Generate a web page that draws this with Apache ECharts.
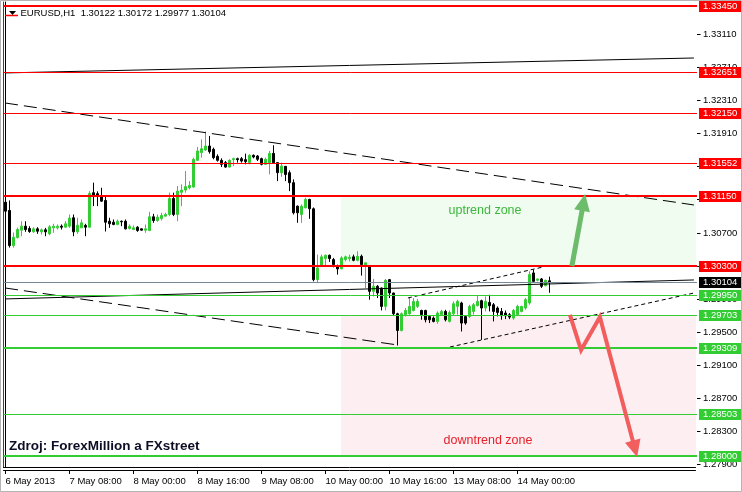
<!DOCTYPE html>
<html><head><meta charset="utf-8">
<script src="https://cdn.jsdelivr.net/npm/echarts@6/dist/echarts.min.js"></script>
<style>html,body{margin:0;padding:0;background:#fff}#c{width:742px;height:492px}</style>
</head><body><div id="c"></div>
<script>
// ---------------- data ----------------
const symbolName = 'EURUSD,H1';
const days = ['6 May','7 May','8 May','9 May','10 May','13 May','14 May','15 May'];
const firstHour = 16;
const slotCount = 173;
const xTickStep = 16;
const xTickLabels = ['6 May 2013','7 May 08:00','8 May 00:00','8 May 16:00','9 May 08:00','10 May 00:00','10 May 16:00','13 May 08:00','14 May 00:00'];
const yTickValues = [1.33110,1.32710,1.32310,1.31910,1.31510,1.31110,1.30700,1.30300,1.29900,1.29500,1.29100,1.28700,1.28300,1.27900];
const yMin = 1.27867, yMax = 1.33498;

// [open, close, low, high]
const candles = [
[1.31074,1.30965,1.30950,1.31095],[1.30974,1.30548,1.30524,1.31095],[1.30548,1.30650,1.30524,1.30707],[1.30646,1.30743,1.30634,1.30767],
[1.30735,1.30783,1.30662,1.30843],[1.30783,1.30743,1.30715,1.30843],[1.30755,1.30719,1.30703,1.30783],[1.30715,1.30751,1.30703,1.30771],
[1.30751,1.30722,1.30691,1.30771],[1.30715,1.30739,1.30682,1.30755],[1.30739,1.30715,1.30662,1.30763],[1.30691,1.30775,1.30674,1.30795],
[1.30763,1.30783,1.30703,1.30812],[1.30763,1.30783,1.30743,1.30804],[1.30783,1.30771,1.30743,1.30804],[1.30771,1.30812,1.30763,1.30843],
[1.30783,1.30881,1.30763,1.30925],[1.30885,1.30715,1.30662,1.30925],[1.30715,1.30795,1.30691,1.30885],[1.30763,1.30824,1.30763,1.30864],
[1.30792,1.30771,1.30662,1.30812],[1.30771,1.31180,1.30767,1.31208],[1.31189,1.31160,1.31026,1.31310],[1.31177,1.31160,1.31026,1.31205],
[1.31147,1.31086,1.31079,1.31249],[1.31095,1.30831,1.30719,1.31147],[1.30843,1.30812,1.30763,1.30885],[1.30831,1.30804,1.30795,1.30864],
[1.30804,1.30843,1.30795,1.30864],[1.30843,1.30836,1.30783,1.30852],[1.30843,1.30751,1.30743,1.30864],[1.30755,1.30783,1.30743,1.30804],
[1.30743,1.30763,1.30735,1.30792],[1.30771,1.30731,1.30715,1.30783],[1.30751,1.30735,1.30731,1.30755],[1.30735,1.30751,1.30703,1.30804],
[1.30731,1.30897,1.30722,1.30958],[1.30897,1.30852,1.30824,1.30933],[1.30852,1.30892,1.30836,1.30925],[1.30876,1.30913,1.30852,1.30946],
[1.30905,1.30925,1.30901,1.30946],[1.30925,1.31119,1.30905,1.31189],[1.31119,1.30925,1.30905,1.31189],[1.30925,1.31208,1.30843,1.31269],
[1.31193,1.31221,1.31026,1.31289],[1.31221,1.31262,1.31189,1.31451],[1.31249,1.31277,1.31229,1.31329],[1.31257,1.31593,1.31249,1.31613],
[1.31581,1.31694,1.31572,1.31742],[1.31674,1.31722,1.31613,1.31835],[1.31706,1.31754,1.31694,1.31929],[1.31754,1.31686,1.31662,1.31876],
[1.31714,1.31613,1.31593,1.31735],[1.31629,1.31581,1.31565,1.31653],[1.31581,1.31532,1.31499,1.31605],[1.31553,1.31499,1.31492,1.31572],
[1.31499,1.31581,1.31492,1.31593],[1.31589,1.31601,1.31511,1.31613],[1.31601,1.31589,1.31553,1.31613],[1.31601,1.31572,1.31553,1.31621],
[1.31589,1.31565,1.31532,1.31662],[1.31553,1.31641,1.31532,1.31653],[1.31641,1.31621,1.31605,1.31653],[1.31633,1.31593,1.31572,1.31645],
[1.31601,1.31532,1.31520,1.31613],[1.31532,1.31593,1.31524,1.31613],[1.31553,1.31665,1.31410,1.31694],[1.31665,1.31553,1.31544,1.31763],
[1.31553,1.31431,1.31329,1.31556],[1.31431,1.31511,1.31382,1.31553],[1.31508,1.31410,1.31329,1.31511],[1.31431,1.31310,1.31208,1.31459],
[1.31310,1.30946,1.30925,1.31350],[1.31026,1.30946,1.30824,1.31034],[1.30925,1.31026,1.30824,1.31046],[1.31006,1.31107,1.30998,1.31128],
[1.31107,1.30994,1.30872,1.31115],[1.30994,1.30136,1.30115,1.31010],[1.30136,1.30278,1.30095,1.30439],[1.30298,1.30412,1.30298,1.30439],
[1.30391,1.30431,1.30306,1.30439],[1.30431,1.30391,1.30351,1.30439],[1.30379,1.30318,1.30285,1.30399],[1.30298,1.30266,1.30197,1.30318],
[1.30266,1.30399,1.30266,1.30419],[1.30379,1.30412,1.30358,1.30427],[1.30391,1.30407,1.30358,1.30439],[1.30412,1.30370,1.30358,1.30439],
[1.30370,1.30419,1.30358,1.30480],[1.30419,1.30318,1.30185,1.30439],[1.30298,1.30339,1.30035,1.30346],[1.30306,1.29994,1.29893,1.30306],
[1.29994,1.30055,1.29933,1.30144],[1.30055,1.29974,1.29913,1.30071],[1.30035,1.29812,1.29763,1.30039],[1.29812,1.30128,1.29763,1.30144],
[1.30136,1.29974,1.29913,1.30144],[1.29974,1.29723,1.29699,1.29978],[1.29723,1.29520,1.29338,1.29735],[1.29520,1.29723,1.29508,1.29739],
[1.29711,1.29763,1.29690,1.29792],[1.29723,1.29812,1.29711,1.29913],[1.29763,1.29872,1.29751,1.29913],[1.29812,1.29872,1.29792,1.29901],
[1.29763,1.29711,1.29650,1.29771],[1.29763,1.29650,1.29618,1.29771],[1.29690,1.29650,1.29610,1.29699],[1.29670,1.29630,1.29618,1.29690],
[1.29630,1.29731,1.29602,1.29751],[1.29711,1.29751,1.29699,1.29771],[1.29751,1.29650,1.29630,1.29771],[1.29630,1.29739,1.29618,1.29763],
[1.29723,1.29844,1.29699,1.29872],[1.29812,1.29872,1.29711,1.29893],[1.29853,1.29610,1.29508,1.29868],[1.29690,1.29610,1.29590,1.29699],
[1.29690,1.29812,1.29670,1.29832],[1.29751,1.29832,1.29711,1.29853],[1.29820,1.29872,1.29812,1.29941],[1.29881,1.29792,1.29407,1.29893],
[1.29792,1.29872,1.29751,1.29933],[1.29860,1.29820,1.29751,1.29953],[1.29832,1.29751,1.29630,1.29853],[1.29792,1.29739,1.29690,1.29812],
[1.29751,1.29699,1.29650,1.29792],[1.29731,1.29699,1.29658,1.29763],[1.29711,1.29682,1.29658,1.29731],[1.29670,1.29763,1.29650,1.29780],
[1.29711,1.29812,1.29699,1.29832],[1.29751,1.29812,1.29739,1.29820],[1.29792,1.29893,1.29771,1.29913],[1.29853,1.30197,1.29832,1.30237],
[1.30217,1.30115,1.30095,1.30257],[1.30128,1.30144,1.30115,1.30148],[1.30144,1.30055,1.30035,1.30156],[1.30063,1.30128,1.30055,1.30136],
[1.30122,1.30104,1.29977,1.30172]
];

const levelValues = [1.33450,1.32651,1.32150,1.31552,1.31150,1.30300,1.29950,1.29703,1.29309,1.28503,1.28000];
const levelKind   = ['res','res','res','res','res','res','sup','sup','sup','sup','sup'];

// trend lines: [[slot, price],[slot, price]]
const trendTopSolid     = [[-0.1,1.32639],[172.1,1.32820]];
const trendFallingDash  = [[-0.1,1.32275],[172.1,1.31040]];
const trendMidSolid     = [[-0.1,1.29902],[172.1,1.30132]];
const trendLowerDash    = [[-0.1,1.30035],[98.1,1.29344]];
const trendChannelTop   = [[100.6,1.29914],[134.4,1.30289]];
const trendChannelLow   = [[111.1,1.29320],[172.1,1.29974]];

// zones: [[slotFrom, priceTop],[slotTo, priceBottom]]
const uptrendZone   = [[83.9,1.31150],[172.5,1.30300]];
const downtrendZone = [[83.9,1.29703],[172.5,1.28000]];

// arrows (slot, price)
const arrowUp   = [[141.6,1.30301],[144.9,1.31173]];
const arrowDown = [[141.1,1.29708],[143.9,1.29284],[148.6,1.29684],[157.9,1.27988]];

// ---------------- styles ----------------
const FONT = '"Liberation Sans", Arial, sans-serif';
const BULL = '#32cd32', BEAR = '#000000';
const RED = '#ff0000', GREEN = '#32cd32';
const levelWidth = [2,1,1,1,2,2,1,1,2,1,2];
const AXIS_OFFSET = 1.5;

// categories (hourly bars, weekend skipped)
const categories = [];
{ let d = 0, h = firstHour;
  while (categories.length < slotCount) {
    categories.push(days[d] + ' ' + String(h).padStart(2,'0') + ':00');
    h++; if (h === 24) { h = 0; d++; }
  } }

const last = candles[candles.length - 1];
const currentPrice = last[1];

const chart = echarts.init(document.getElementById('c'), null, {renderer: 'canvas'});

const tickShown = (i) => i % xTickStep === 0 && i / xTickStep < xTickLabels.length;

function lineSeries(data, type) {
  return {type: 'line', xAxisIndex: 2, yAxisIndex: 0, data: data, symbol: 'none', silent: true,
    animation: false, z: 4, lineStyle: {color: '#000', width: 1, type: type}};
}

function crisp(y, w) { return (w % 2) ? Math.round(y) + 0.5 : Math.round(y); }

const arrows = [
  {pts: arrowUp, color: '#6cbc6c', width: 5, head: 17, half: 8},
  {pts: arrowDown, color: '#f25d5d', width: 4, head: 17, half: 8}
];

const option = {
  animation: false,
  backgroundColor: '#fff',
  grid: {left: 3.5, top: 2, width: 692, height: 465, containLabel: false},
  xAxis: [
    {type: 'category', data: categories, boundaryGap: true, position: 'bottom',
     axisLine: {show: true, lineStyle: {color: '#000', width: 1}}, axisTick: {show: false},
     axisLabel: {show: false}, splitLine: {show: false}},
    {type: 'category', data: categories, boundaryGap: true, position: 'bottom', offset: 3,
     axisLine: {show: true, lineStyle: {color: '#000', width: 1}},
     axisTick: {show: true, alignWithLabel: true, interval: tickShown, length: 4, lineStyle: {color: '#000'}},
     axisLabel: {show: true, interval: tickShown, align: 'left', margin: 6, color: '#000',
       fontFamily: FONT, fontSize: 9.5,
       formatter: (v, i) => xTickLabels[i / xTickStep] || ''},
     splitLine: {show: false}},
    {type: 'value', min: -0.5, max: slotCount - 0.5, show: false}
  ],
  yAxis: [
    {type: 'value', position: 'right', offset: AXIS_OFFSET, min: yMin, max: yMax,
     axisLine: {show: true, lineStyle: {color: '#000'}}, axisTick: {show: false},
     axisLabel: {show: false}, splitLine: {show: false}},
    {type: 'value', position: 'left', min: yMin, max: yMax,
     axisLine: {show: true, lineStyle: {color: '#404040'}}, axisTick: {show: false},
     axisLabel: {show: false}, splitLine: {show: false}}
  ],
  series: [
    // zones
    {type: 'custom', xAxisIndex: 2, yAxisIndex: 0, silent: true, z: 1, animation: false,
     data: [0, 1],
     renderItem: (params, api) => {
       const zone = params.dataIndex === 0 ? uptrendZone : downtrendZone;
       const a = api.coord(zone[0]), b = api.coord(zone[1]);
       return {type: 'rect', shape: {x: Math.round(a[0]), y: Math.round(a[1]), width: Math.round(b[0]) - Math.round(a[0]), height: Math.round(b[1]) - Math.round(a[1])},
         style: {fill: params.dataIndex === 0 ? '#effcef' : '#fdeef2'}};
     }},
    // candles
    {type: 'candlestick', xAxisIndex: 0, yAxisIndex: 0, data: candles, barWidth: 2, z: 3,
     silent: true, animation: false,
     itemStyle: {color: BULL, color0: BEAR, borderColor: BULL, borderColor0: BEAR, borderWidth: 1}},
    // trend lines
    lineSeries(trendTopSolid, 'solid'),
    lineSeries(trendFallingDash, [13, 6]),
    lineSeries(trendMidSolid, 'solid'),
    lineSeries(trendLowerDash, [13, 6]),
    lineSeries(trendChannelTop, [4, 3]),
    lineSeries(trendChannelLow, [4, 3]),
    // level lines + current price line
    {type: 'custom', xAxisIndex: 2, yAxisIndex: 0, silent: true, z: 5, animation: false,
     data: levelValues.map(v => [0, v]).concat([[0, currentPrice]]),
     renderItem: (params, api) => {
       const cs = params.coordSys;
       const i = params.dataIndex;
       const isCur = i >= levelValues.length;
       const w = isCur ? 1 : levelWidth[i];
       const col = isCur ? '#778899' : (levelKind[i] === 'res' ? RED : GREEN);
       const y = crisp(api.coord([0, api.value(1)])[1], w);
       return {type: 'line', shape: {x1: cs.x, y1: y, x2: cs.x + cs.width + AXIS_OFFSET, y2: y},
         style: {stroke: col, lineWidth: w}};
     }},
    // arrows
    {type: 'custom', xAxisIndex: 2, yAxisIndex: 0, silent: true, z: 6, animation: false,
     data: [0, 1],
     renderItem: (params, api) => {
       const a = arrows[params.dataIndex];
       const pts = a.pts.map(p => api.coord(p));
       const n = pts.length, tip = pts[n - 1], prev = pts[n - 2];
       const dx = tip[0] - prev[0], dy = tip[1] - prev[1], len = Math.hypot(dx, dy);
       const ux = dx / len, uy = dy / len;
       const base = [tip[0] - ux * a.head, tip[1] - uy * a.head];
       const shaft = pts.slice(0, n - 1).concat([[base[0] + ux * 2, base[1] + uy * 2]]);
       const l = [base[0] - uy * a.half, base[1] + ux * a.half];
       const r = [base[0] + uy * a.half, base[1] - ux * a.half];
       return {type: 'group', children: [
         {type: 'polyline', shape: {points: shaft}, style: {stroke: a.color, lineWidth: a.width, fill: null, lineJoin: 'miter', lineCap: 'butt'}},
         {type: 'polygon', shape: {points: [l, tip, r]}, style: {fill: a.color}}
       ]};
     }},
    // y tick labels
    {type: 'custom', xAxisIndex: 2, yAxisIndex: 0, silent: true, z: 7, animation: false,
     data: yTickValues.map(v => [0, v]),
     renderItem: (params, api) => {
       const cs = params.coordSys;
       const R = cs.x + cs.width + AXIS_OFFSET;
       const y = crisp(api.coord([0, api.value(1)])[1], 1);
       return {type: 'group', children: [
         {type: 'line', shape: {x1: R, y1: y, x2: R + 3.5, y2: y}, style: {stroke: '#000', lineWidth: 1}},
         {type: 'text', x: R + 6, y: y, style: {text: api.value(1).toFixed(5), fill: '#000', fontFamily: FONT, fontSize: 9.5, align: 'left', verticalAlign: 'middle'}}
       ]};
     }},
    // level price boxes
    {type: 'custom', xAxisIndex: 2, yAxisIndex: 0, silent: true, z: 8, animation: false,
     data: levelValues.map(v => [0, v]).concat([[0, currentPrice]]),
     renderItem: (params, api) => {
       const cs = params.coordSys;
       const R = cs.x + cs.width + AXIS_OFFSET;
       const i = params.dataIndex;
       const isCur = i >= levelValues.length;
       const col = isCur ? '#000' : (levelKind[i] === 'res' ? RED : GREEN);
       const y = Math.round(api.coord([0, api.value(1)])[1]);
       return {type: 'group', children: [
         {type: 'rect', shape: {x: R + 2, y: y - 5, width: 50, height: 11}, style: {fill: col}},
         {type: 'text', x: R + 6, y: y + 0.5, style: {text: api.value(1).toFixed(5), fill: '#fff', fontFamily: FONT, fontSize: 9.5, align: 'left', verticalAlign: 'middle'}}
       ]};
     }}
  ],
  graphic: [
    {type: 'rect', shape: {x: 0.5, y: 0.5, width: 741, height: 491}, style: {fill: null, stroke: '#b4b4b4', lineWidth: 1}, z: 100, silent: true},
    {type: 'polygon', shape: {points: [[9, 11], [16, 11], [12.5, 15]]}, style: {fill: '#000'}, z: 100, silent: true},
    {type: 'line', shape: {x1: 5, y1: 15.5, x2: 18, y2: 15.5}, style: {stroke: RED, lineWidth: 1.5}, z: 100, silent: true},
    {type: 'text', x: 20.5, y: 13, style: {text: symbolName + '  ' + [last[0], last[3], last[2], last[1]].map(v => v.toFixed(5)).join(' '),
      fill: '#000', fontFamily: FONT, fontSize: 9.5, verticalAlign: 'middle'}, z: 100, silent: true},
    {type: 'text', x: 485, y: 211, style: {text: 'uptrend zone', fill: '#3cb83c', fontFamily: FONT, fontSize: 12.5, align: 'center', verticalAlign: 'middle'}, z: 100, silent: true},
    {type: 'text', x: 488, y: 441, style: {text: 'downtrend zone', fill: '#e8202a', fontFamily: FONT, fontSize: 12.5, align: 'center', verticalAlign: 'middle'}, z: 100, silent: true},
    {type: 'text', x: 9, y: 446, style: {text: 'Zdroj: ForexMillion a FXstreet', fill: '#0d0d26', fontFamily: FONT, fontSize: 13.5, fontWeight: 'bold', verticalAlign: 'middle'}, z: 100, silent: true}
  ]
};
chart.setOption(option);
</script>
</body></html>
